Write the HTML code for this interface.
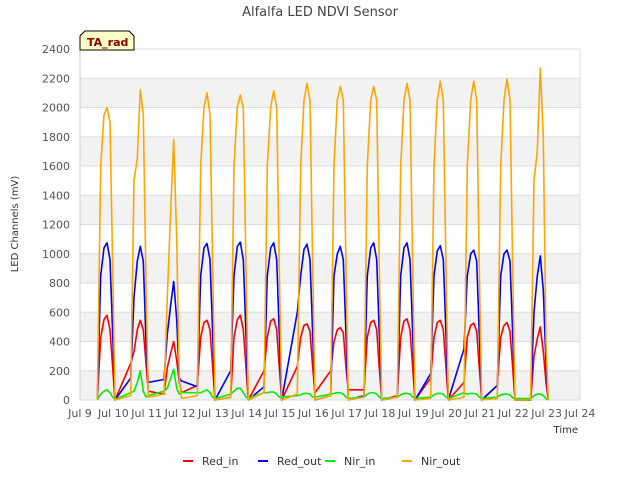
<!DOCTYPE html>
<html><head><meta charset="utf-8"><style>
body{margin:0;background:#fff;font-family:"Liberation Sans",sans-serif}
svg text{font-family:"DejaVu Sans","Liberation Sans",sans-serif}
</style></head><body>
<svg id="chart" width="640" height="480" viewBox="0 0 640 480">
<text x="320" y="16" text-anchor="middle" font-size="13" fill="#444">Alfalfa LED NDVI Sensor</text>
<g id="bands"></g><g id="grid"></g><g id="yt"></g><g id="xt"></g><g id="series"></g>
<text transform="translate(18,224) rotate(-90)" text-anchor="middle" font-size="10" fill="#333">LED Channels (mV)</text>
<text x="578" y="433" text-anchor="end" font-size="10" fill="#333">Time</text>
<g>
<path d="M80,50 L80,36 L85,31 L129,31 L134,36 L134,50 Z" fill="#ffffc6" stroke="#000" stroke-width="1"/>
<text x="87" y="46" font-size="11" font-weight="bold" fill="#8b0000">TA_rad</text>
</g>
<g id="legend"></g>
</svg>
<script>
const times=[.52,.62,.72,.81,.90,.98,1.05,1.52,1.62,1.72,1.81,1.90,1.98,2.05,2.52,2.62,2.72,2.81,2.90,2.98,3.05,3.52,3.62,3.72,3.81,3.90,3.98,4.05,4.52,4.62,4.72,4.81,4.90,4.98,5.05,5.52,5.62,5.72,5.81,5.90,5.98,6.05,6.52,6.62,6.72,6.81,6.90,6.98,7.05,7.52,7.62,7.72,7.81,7.90,7.98,8.05,8.52,8.62,8.72,8.81,8.90,8.98,9.05,9.52,9.62,9.72,9.81,9.90,9.98,10.05,10.52,10.62,10.72,10.81,10.90,10.98,11.05,11.52,11.62,11.72,11.81,11.90,11.98,12.05,12.52,12.62,12.72,12.81,12.90,12.98,13.05,13.52,13.62,13.72,13.81,13.90,13.98,14.05];
const nirOut=[0,1600,1950,2000,1900,900,0,30,1500,1650,2120,1950,800,20,40,700,1300,1780,1100,150,10,30,1600,2000,2100,1950,900,0,20,1600,2000,2085,2000,900,0,50,1600,2000,2115,2000,900,0,40,1600,2050,2165,2050,900,0,30,1600,2050,2145,2050,900,0,20,1600,2050,2145,2050,900,0,20,1600,2050,2165,2050,900,0,10,1600,2050,2180,2050,900,0,20,1600,2050,2180,2050,900,0,10,1600,2050,2195,2050,900,0,0,1500,1700,2270,1800,400,0];
const redOut=[0,850,1040,1075,960,450,0,150,700,950,1050,950,400,120,140,450,650,810,550,150,130,90,850,1040,1070,960,450,0,200,850,1050,1080,960,450,0,90,850,1040,1075,960,450,0,600,850,1030,1065,960,450,0,30,850,1000,1050,960,450,0,30,850,1040,1075,960,450,0,20,850,1040,1075,960,450,0,180,850,1020,1055,960,450,0,350,850,1000,1025,950,450,0,100,850,1000,1025,950,450,0,0,600,850,985,750,250,0];
const redIn=[0,430,550,580,480,220,0,250,330,480,545,480,250,60,40,220,320,400,270,120,50,100,430,530,545,480,220,0,20,430,550,580,480,220,0,200,430,540,555,480,220,0,230,430,510,520,470,220,50,200,400,480,495,460,220,70,70,430,530,545,480,220,0,30,430,540,555,480,220,0,150,430,530,545,480,220,0,120,430,510,525,470,220,0,100,430,510,530,470,220,0,0,300,420,500,330,120,0];
const nirIn=[0,40,60,70,50,20,5,50,60,120,200,60,20,30,60,80,150,210,80,40,50,50,50,60,70,50,20,10,40,60,80,80,50,20,10,50,50,55,55,40,20,20,30,35,45,45,40,20,20,40,45,50,50,40,20,10,20,40,50,50,40,20,10,20,35,45,45,40,20,10,20,35,45,45,40,20,10,50,40,45,45,40,20,10,20,35,40,40,35,15,10,10,30,40,40,30,10,0];
const yTicks=[0,200,400,600,800,1000,1200,1400,1600,1800,2000,2200,2400];
const xTickLabels=["Jul 9","Jul 10","Jul 11","Jul 12","Jul 13","Jul 14","Jul 15","Jul 16","Jul 17","Jul 18","Jul 19","Jul 20","Jul 21","Jul 22","Jul 23","Jul 24"];
const seriesNames=["Red_in","Red_out","Nir_in","Nir_out"];
const seriesColors=["#ff0000","#0000ff","#00ee00","#ffa500"];
const seriesData=[redIn,redOut,nirIn,nirOut];
const NS="http://www.w3.org/2000/svg";
const X0=80,X1=580,Y0=400,Y1=49;
const xs=t=>X0+t*(X1-X0)/15;
const ys=v=>Y0-v*(Y0-Y1)/2400;
function mk(tag,attrs,parent){const e=document.createElementNS(NS,tag);for(const k in attrs)e.setAttribute(k,attrs[k]);document.getElementById(parent).appendChild(e);return e;}
for(let i=0;i<yTicks.length-1;i++){
 const b=mk('rect',{x:X0,y:ys(yTicks[i+1]),width:X1-X0,height:ys(yTicks[i])-ys(yTicks[i+1]),fill:i%2==0?'#f2f2f2':'#ffffff'},'bands');
 
 
}
yTicks.forEach(v=>{
 const l=mk('line',{x1:X0,x2:X1,y1:ys(v),y2:ys(v),stroke:'#dcdcdc','stroke-width':1},'grid');
 
 
 const t=mk('text',{x:X0-10,y:ys(v)+4,'text-anchor':'end','font-size':11,fill:'#555'},'yt');
 
 
 t.textContent=v;
});
const va=mk('line',{x1:X0,x2:X0,y1:Y1,y2:Y0,stroke:'#ccc'},'grid');


const vb=mk('line',{x1:X1,x2:X1,y1:Y1,y2:Y0,stroke:'#ddd'},'grid');


xTickLabels.forEach((s,i)=>{
 const t=mk('text',{x:xs(i),y:417,'text-anchor':'middle','font-size':11,fill:'#555'},'xt');
 
 
 t.textContent=s;
});
seriesData.forEach((arr,si)=>{
 const pts=arr.map((v,i)=>xs(times[i]).toFixed(1)+','+ys(v).toFixed(1)).join(' ');
 const p=mk('polyline',{points:pts,fill:'none',stroke:seriesColors[si],'stroke-width':1.6,'stroke-linejoin':'round'},'series');
 
 
});
const lx=[183,258,325,402];
seriesNames.forEach((n,i)=>{
 const l=mk('line',{x1:lx[i],x2:lx[i]+10,y1:461,y2:461,stroke:seriesColors[i],'stroke-width':2},'legend');
 
 
 const t=mk('text',{x:lx[i]+19,y:465,'font-size':11,fill:'#333'},'legend');
 
 
 t.textContent=n;
});
</script>
</body></html>
